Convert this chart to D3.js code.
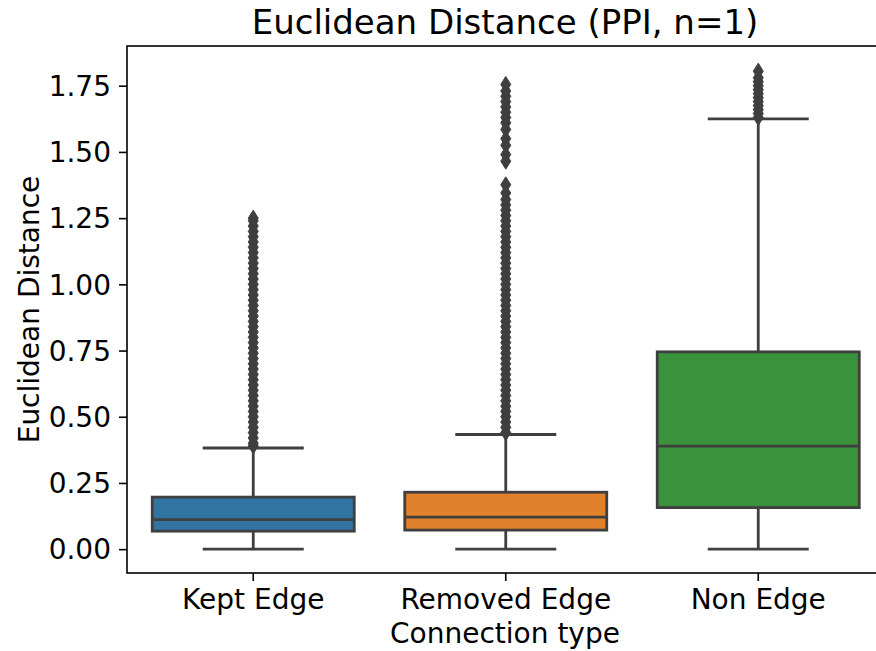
<!DOCTYPE html>
<html>
<head>
<meta charset="utf-8">
<script src="https://cdn.jsdelivr.net/npm/d3@7"></script>
<style>
  body { margin: 0; background: #fff; }
  text { font-family: "DejaVu Sans", sans-serif; fill: #000; }
</style>
</head>
<body>
<div id="chart"></div>
<script>
// categories and box stats
const categories = ["Kept Edge", "Removed Edge", "Non Edge"];
const colors = ["#3274a1", "#e1812c", "#3a923a"];
const whiskerLow = [0, 0, 0];
const q1 = [0.068, 0.072, 0.157];
const medians = [0.1115, 0.121, 0.389];
const q3 = [0.1965, 0.215, 0.745];
const whiskerHigh = [0.382, 0.433, 1.625];

// outliers (fliers), dense columns above the whiskers
const keptOutliers = [0.39, 0.40, 0.42, 0.44, 0.46, 0.48, 0.50, 0.52, 0.54, 0.56, 0.58, 0.60,
  0.62, 0.64, 0.66, 0.68, 0.70, 0.72, 0.74, 0.76, 0.78, 0.80, 0.82, 0.84, 0.86, 0.88, 0.90,
  0.92, 0.94, 0.96, 0.98, 1.00, 1.02, 1.04, 1.06, 1.08, 1.10, 1.12, 1.14, 1.16, 1.18, 1.20,
  1.22, 1.24, 1.25];
const removedOutliers = [0.44, 0.46, 0.48, 0.50, 0.52, 0.54, 0.56, 0.58, 0.60, 0.62, 0.64,
  0.66, 0.68, 0.70, 0.72, 0.74, 0.76, 0.78, 0.80, 0.82, 0.84, 0.86, 0.88, 0.90, 0.92, 0.94,
  0.96, 0.98, 1.00, 1.02, 1.04, 1.06, 1.08, 1.10, 1.12, 1.14, 1.16, 1.18, 1.20, 1.22, 1.24,
  1.26, 1.28, 1.30, 1.32, 1.345, 1.376,
  1.465, 1.49, 1.525, 1.55, 1.585, 1.61, 1.63, 1.65, 1.67, 1.69, 1.71, 1.73, 1.755];
const nonOutliers = [1.63, 1.645, 1.66, 1.675, 1.69, 1.705, 1.72, 1.735, 1.75, 1.765, 1.78, 1.805];
const outliers = [keptOutliers, removedOutliers, nonOutliers];

const yTicks = [0, 0.25, 0.5, 0.75, 1.0, 1.25, 1.5, 1.75];

const W = 876, H = 651;
const plot = { left: 127, right: 884.5, top: 46, bottom: 573 };
const edge = "#3f3f3f";
const lw = 2.8;

const svg = d3.select("#chart").append("svg")
  .attr("width", W)
  .attr("height", H);

const x = d3.scaleBand()
  .domain(categories)
  .range([plot.left, plot.right])
  .padding(0);

const y = d3.scaleLinear()
  .domain([-0.09, 1.90])
  .range([plot.bottom, plot.top]);

const boxW = x.bandwidth() * 0.8;

const data = categories.map((c, i) => ({
  cat: c, color: colors[i], lo: whiskerLow[i], q1: q1[i], med: medians[i],
  q3: q3[i], hi: whiskerHigh[i], out: outliers[i]
}));

const g = svg.append("g");

const box = g.selectAll("g.box")
  .data(data)
  .join("g")
  .attr("class", "box");

const cx = d => x(d.cat) + x.bandwidth() / 2;

// whiskers
box.append("line")
  .attr("x1", cx).attr("x2", cx)
  .attr("y1", d => y(d.q3)).attr("y2", d => y(d.hi))
  .attr("stroke", edge).attr("stroke-width", lw);
box.append("line")
  .attr("x1", cx).attr("x2", cx)
  .attr("y1", d => y(d.q1)).attr("y2", d => y(d.lo))
  .attr("stroke", edge).attr("stroke-width", lw);
// caps
box.selectAll("line.cap")
  .data(d => [d.lo, d.hi].map(v => ({ v, d })))
  .join("line")
  .attr("class", "cap")
  .attr("x1", o => cx(o.d) - boxW / 4).attr("x2", o => cx(o.d) + boxW / 4)
  .attr("y1", o => y(o.v)).attr("y2", o => y(o.v))
  .attr("stroke", edge).attr("stroke-width", lw);

// boxes
box.append("rect")
  .attr("x", d => cx(d) - boxW / 2)
  .attr("width", boxW)
  .attr("y", d => y(d.q3))
  .attr("height", d => y(d.q1) - y(d.q3))
  .attr("fill", d => d.color)
  .attr("stroke", edge).attr("stroke-width", lw);

// medians
box.append("line")
  .attr("x1", d => cx(d) - boxW / 2).attr("x2", d => cx(d) + boxW / 2)
  .attr("y1", d => y(d.med)).attr("y2", d => y(d.med))
  .attr("stroke", edge).attr("stroke-width", lw);

// fliers: thin diamonds
const dw = 5, dh = 8;
box.selectAll("path.flier")
  .data(d => d.out.map(v => ({ v, d })))
  .join("path")
  .attr("class", "flier")
  .attr("d", o => {
    const px = cx(o.d), py = y(o.v);
    return `M${px},${py - dh}L${px + dw},${py}L${px},${py + dh}L${px - dw},${py}Z`;
  })
  .attr("fill", edge).attr("stroke", edge).attr("stroke-width", 1);

// axes
const yAxis = svg.append("g")
  .attr("transform", `translate(${plot.left},0)`)
  .call(d3.axisLeft(y).tickValues(yTicks).tickFormat(d3.format(".2f")).tickSize(8).tickPadding(8));
const xAxis = svg.append("g")
  .attr("transform", `translate(0,${plot.bottom})`)
  .call(d3.axisBottom(x).tickSize(8).tickPadding(8));

[yAxis, xAxis].forEach(a => {
  a.select(".domain").remove();
  a.selectAll(".tick line").attr("stroke", "#000").attr("stroke-width", 1.6);
  a.selectAll(".tick text").style("font-size", "28px").attr("fill", "#000");
});
yAxis.selectAll(".tick text").attr("dy", "0.35em");

// spines
svg.append("rect")
  .attr("x", plot.left).attr("y", plot.top)
  .attr("width", plot.right - plot.left).attr("height", plot.bottom - plot.top)
  .attr("fill", "none").attr("stroke", "#000").attr("stroke-width", 1.6);

// labels
svg.append("text")
  .attr("x", 505).attr("y", 34)
  .attr("text-anchor", "middle")
  .style("font-size", "34px")
  .text("Euclidean Distance (PPI, n=1)");

svg.append("text")
  .attr("x", 505).attr("y", 643)
  .attr("text-anchor", "middle")
  .style("font-size", "28px")
  .text("Connection type");

svg.append("text")
  .attr("transform", `translate(39,${(plot.top + plot.bottom) / 2}) rotate(-90)`)
  .attr("text-anchor", "middle")
  .style("font-size", "28px")
  .text("Euclidean Distance");
</script>
</body>
</html>
